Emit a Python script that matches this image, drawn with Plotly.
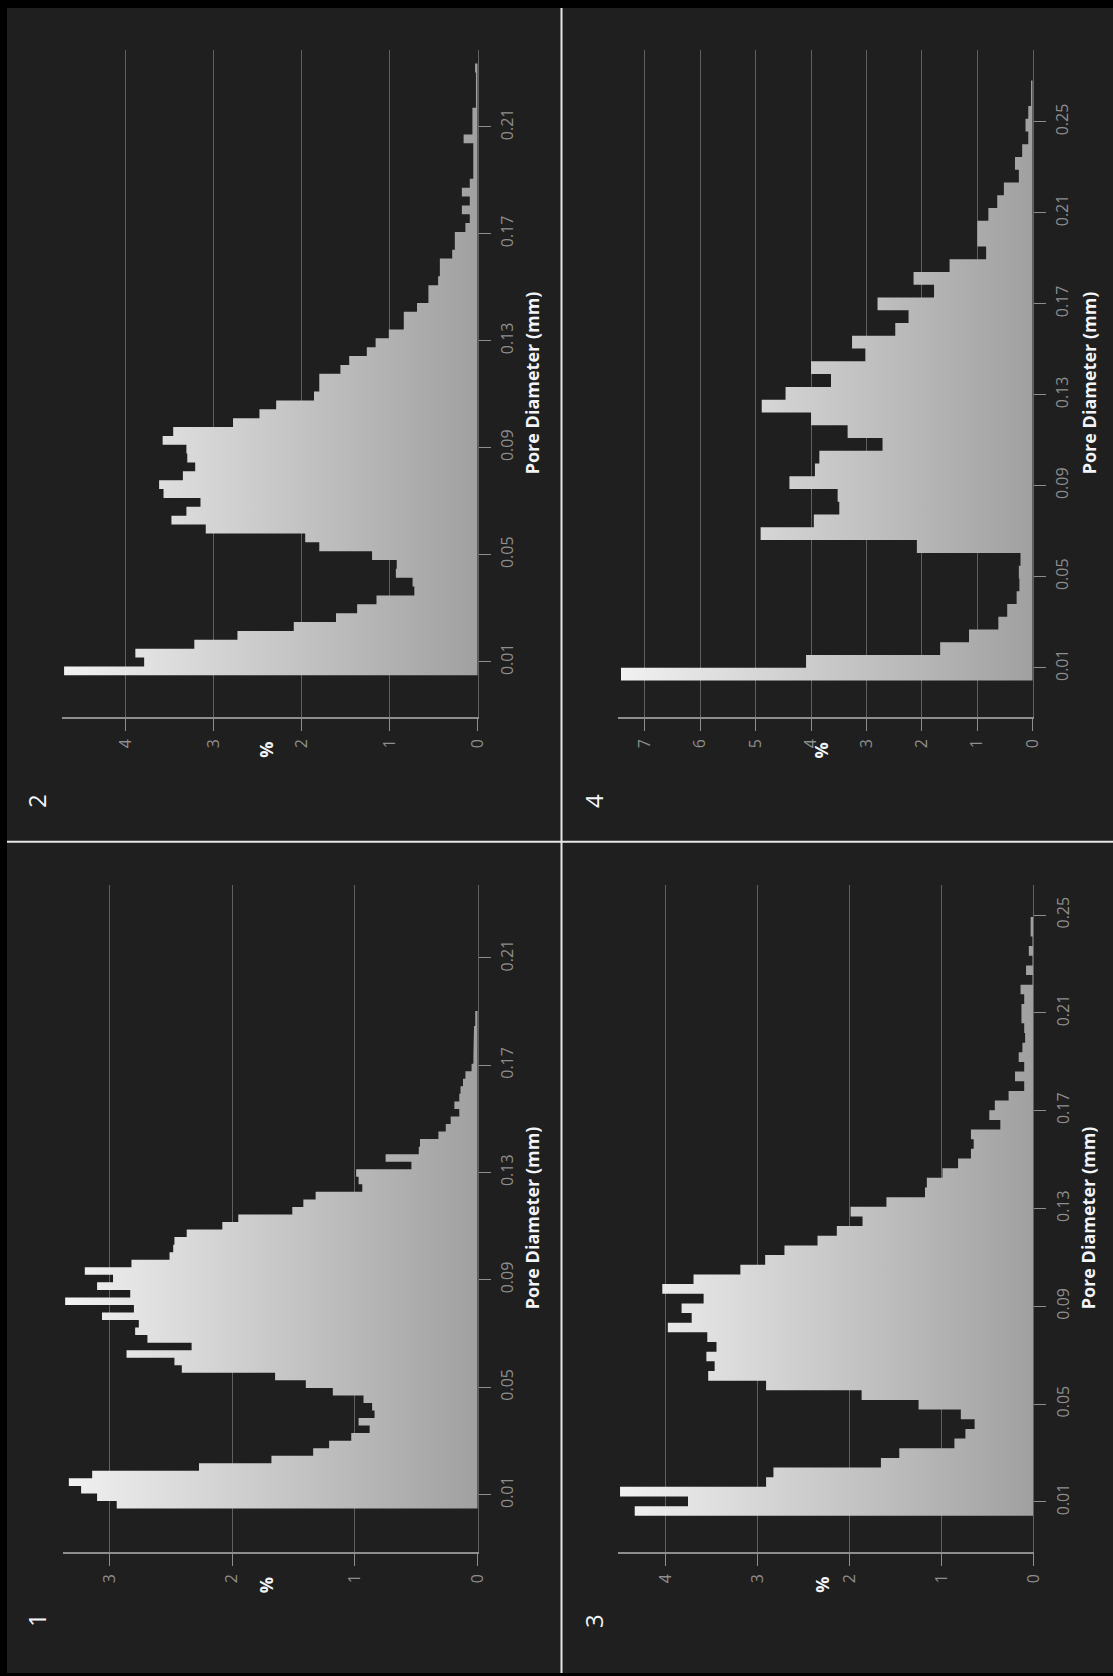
import plotly.graph_objects as go

W, H = 1113, 1676

# ---- pore diameter distributions (percent of pores per size bin) ----
# sample 1
bin_start_1 = 0.0048
bin_width_1 = 0.00281
pct_1 = [2.94, 3.10, 3.23, 3.33, 3.14, 2.27, 1.68, 1.34, 1.21, 1.03,
         0.88, 0.97, 0.84, 0.86, 0.93, 1.18, 1.40, 1.65, 2.41, 2.47,
         2.86, 2.33, 2.69, 2.79, 2.76, 3.06, 2.80, 3.36, 2.83, 3.10,
         2.97, 3.20, 2.82, 2.51, 2.48, 2.47, 2.37, 2.08, 1.95, 1.51,
         1.42, 1.32, 0.94, 0.97, 0.99, 0.54, 0.75, 0.48, 0.47, 0.32,
         0.26, 0.22, 0.15, 0.19, 0.15, 0.14, 0.12, 0.10, 0.05, 0.035,
         0.035, 0.03, 0.03, 0.03, 0.02, 0.02]

# sample 2
bin_start_2 = 0.0049
bin_width_2 = 0.003315
pct_2 = [4.70, 3.79, 3.89, 3.22, 2.73, 2.09, 1.61, 1.37, 1.15, 0.72,
         0.74, 0.93, 0.92, 1.20, 1.80, 1.96, 3.09, 3.48, 3.31, 3.15,
         3.57, 3.62, 3.35, 3.21, 3.30, 3.31, 3.58, 3.46, 2.78, 2.48,
         2.29, 1.86, 1.80, 1.80, 1.56, 1.46, 1.26, 1.16, 1.01, 0.84,
         0.84, 0.69, 0.56, 0.56, 0.45, 0.43, 0.43, 0.29, 0.26, 0.26,
         0.14, 0.09, 0.18, 0.09, 0.18, 0.09, 0.05, 0.05, 0.05, 0.05,
         0.16, 0.06, 0.06, 0.06, 0.02, 0.02, 0.02, 0.02, 0.03]

# sample 3
bin_start_3 = 0.00427
bin_width_3 = 0.00395
pct_3 = [4.34, 3.76, 4.50, 2.91, 2.83, 1.66, 1.46, 0.86, 0.74, 0.64,
         0.79, 1.25, 1.87, 2.91, 3.54, 3.47, 3.56, 3.45, 3.55, 3.98,
         3.72, 3.83, 3.59, 4.04, 3.70, 3.19, 2.92, 2.71, 2.35, 2.14,
         1.86, 1.99, 1.60, 1.18, 1.16, 0.99, 0.82, 0.68, 0.65, 0.68,
         0.36, 0.48, 0.42, 0.27, 0.10, 0.20, 0.10, 0.16, 0.12, 0.09,
         0.10, 0.13, 0.13, 0.10, 0.14, 0.01, 0.08, 0.01, 0.05, 0.01,
         0.03, 0.03]

# sample 4
bin_start_4 = 0.00428
bin_width_4 = 0.005616
pct_4 = [7.43, 4.09, 1.67, 1.15, 0.62, 0.46, 0.29, 0.24, 0.25, 0.22,
         2.09, 4.91, 3.95, 3.49, 3.52, 4.39, 3.93, 3.85, 2.71, 3.34,
         4.00, 4.89, 4.46, 3.64, 4.00, 3.02, 3.26, 2.48, 2.24, 2.80,
         1.78, 2.15, 1.50, 0.84, 1.00, 1.00, 0.80, 0.64, 0.52, 0.25,
         0.32, 0.19, 0.08, 0.13, 0.08, 0.03, 0.03]

# axis ticks
pore_ticks_short = [0.01, 0.05, 0.09, 0.13, 0.17, 0.21]
pore_ticks_long = [0.01, 0.05, 0.09, 0.13, 0.17, 0.21, 0.25]
pct_ticks_1 = [0, 1, 2, 3]
pct_ticks_2 = [0, 1, 2, 3, 4]
pct_ticks_3 = [0, 1, 2, 3, 4]
pct_ticks_4 = [0, 1, 2, 3, 4, 5, 6, 7]

panel_labels = ["1", "2", "3", "4"]
x_title = "Pore Diameter (mm)"
y_title = "%"

# ---- styling ----
BG = "#1f1f1f"
GRID = "#606060"
AXIS = "#8e8e8e"
TICK_TXT = "#8e8e8e"
TITLE_TXT = "#f2f4f8"
FONT = "Open Sans"


def fx(px):
    return px / W


def fy(py):
    return 1 - py / H


# the whole chart is laid out turned a quarter turn: diameter runs upward,
# percent grows to the left.  Panel boxes in pixels: (left, right, top, bottom)
panels = [
    dict(label=panel_labels[0], start=bin_start_1, width=bin_width_1, pct=pct_1,
         pct_ticks=pct_ticks_1, pore_ticks=pore_ticks_short,
         box=(62.7, 477.7, 885.0, 1551.7), pct_max=3.38, pore_range=(-0.0113, 0.2372),
         label_xy=(36, 1620), pore_title_x=532, pct_title_y=1585),
    dict(label=panel_labels[1], start=bin_start_2, width=bin_width_2, pct=pct_2,
         pct_ticks=pct_ticks_2, pore_ticks=pore_ticks_short,
         box=(61.7, 477.7, 50.0, 716.7), pct_max=4.727, pore_range=(-0.0106, 0.2387),
         label_xy=(36, 801), pore_title_x=532, pct_title_y=750),
    dict(label=panel_labels[2], start=bin_start_3, width=bin_width_3, pct=pct_3,
         pct_ticks=pct_ticks_3, pore_ticks=pore_ticks_long,
         box=(618.2, 1033.4, 885.0, 1551.7), pct_max=4.52, pore_range=(-0.0104, 0.2623),
         label_xy=(593, 1621), pore_title_x=1088, pct_title_y=1585),
    dict(label=panel_labels[3], start=bin_start_4, width=bin_width_4, pct=pct_4,
         pct_ticks=pct_ticks_4, pore_ticks=pore_ticks_long,
         box=(618.2, 1032.7, 50.0, 716.7), pct_max=7.48, pore_range=(-0.0116, 0.2816),
         label_xy=(593, 801), pore_title_x=1089, pct_title_y=750),
]

fig = go.Figure()
annotations = []
layout_axes = {}

for i, p in enumerate(panels):
    n = i + 1
    xa = "x" if n == 1 else f"x{n}"
    ya = "y" if n == 1 else f"y{n}"
    xkey = "xaxis" if n == 1 else f"xaxis{n}"
    ykey = "yaxis" if n == 1 else f"yaxis{n}"

    vals = p["pct"]
    edges = [p["start"] + k * p["width"] for k in range(len(vals) + 1)]

    # stepped outline of the histogram, closed back to the zero line
    xs, ys = [0], [edges[0]]
    for k, v in enumerate(vals):
        xs += [v, v]
        ys += [edges[k], edges[k + 1]]
    xs.append(0)
    ys.append(edges[-1])

    fig.add_trace(go.Scatter(
        x=xs, y=ys, xaxis=xa, yaxis=ya, mode="lines",
        line=dict(width=0, color="#cccccc"),
        fill="toself",
        fillgradient=dict(type="horizontal", start=0, stop=p["pct_max"],
                          colorscale=[[0, "#a0a0a0"], [1, "#f2f2f2"]]),
        hoverinfo="skip", showlegend=False,
    ))

    left, right, top, bottom = p["box"]
    layout_axes[xkey] = dict(
        domain=[fx(left), fx(right)], anchor=ya,
        range=[p["pct_max"], 0],
        tickvals=p["pct_ticks"], ticktext=[str(t) for t in p["pct_ticks"]],
        showgrid=True, gridcolor=GRID, gridwidth=1, zeroline=False,
        showline=True, linecolor=AXIS, linewidth=2,
        ticks="outside", ticklen=12, tickwidth=1, tickcolor=AXIS,
        tickangle=-90, ticklabelstandoff=2, automargin=False,
        tickfont=dict(family=FONT, size=16, color=TICK_TXT),
        fixedrange=True,
    )
    layout_axes[ykey] = dict(
        domain=[fy(bottom), fy(top)], anchor=xa, side="right",
        range=list(p["pore_range"]),
        tickvals=p["pore_ticks"], ticktext=[f"{t:.2f}" for t in p["pore_ticks"]],
        showgrid=False, zeroline=False,
        showline=True, linecolor=GRID, linewidth=1,
        ticks="outside", ticklen=12, tickwidth=1, tickcolor=AXIS,
        tickangle=-90, ticklabelstandoff=3, automargin=False,
        tickfont=dict(family=FONT, size=16, color=TICK_TXT),
        fixedrange=True,
    )

    # axis titles and the panel number, all turned with the chart
    annotations.append(dict(
        text=x_title, x=fx(p["pore_title_x"]), y=fy((top + bottom) / 2),
        xref="paper", yref="paper", xanchor="center", yanchor="middle",
        textangle=-90, showarrow=False,
        font=dict(family=FONT, size=18, color=TITLE_TXT, weight="bold"),
    ))
    annotations.append(dict(
        text=y_title, x=fx((left + right) / 2 - 4), y=fy(p["pct_title_y"]),
        xref="paper", yref="paper", xanchor="center", yanchor="middle",
        textangle=-90, showarrow=False,
        font=dict(family=FONT, size=18, color=TITLE_TXT, weight="bold"),
    ))
    lx, ly = p["label_xy"]
    annotations.append(dict(
        text=p["label"], x=fx(lx), y=fy(ly),
        xref="paper", yref="paper", xanchor="center", yanchor="middle",
        textangle=-90, showarrow=False,
        font=dict(family=FONT, size=24, color=TITLE_TXT),
    ))

FRAME = "#000000"
shapes = [
    # black frame along the top, left and bottom edges
    dict(type="rect", xref="paper", yref="paper", layer="below",
         x0=0, x1=1, y0=fy(8), y1=1, fillcolor=FRAME, line=dict(width=0)),
    dict(type="rect", xref="paper", yref="paper", layer="below",
         x0=0, x1=fx(7), y0=0, y1=1, fillcolor=FRAME, line=dict(width=0)),
    dict(type="rect", xref="paper", yref="paper", layer="below",
         x0=0, x1=1, y0=0, y1=fy(1673), fillcolor=FRAME, line=dict(width=0)),
    # panel dividers
    dict(type="line", xref="paper", yref="paper", layer="above",
         x0=fx(561.5), x1=fx(561.5), y0=fy(1673), y1=fy(8),
         line=dict(color="#e6e6e6", width=2)),
    dict(type="line", xref="paper", yref="paper", layer="above",
         x0=fx(7), x1=1, y0=fy(841.7), y1=fy(841.7),
         line=dict(color="#e6e6e6", width=2)),
]

fig.update_layout(
    width=W, height=H, autosize=False,
    margin=dict(l=0, r=0, t=0, b=0, pad=0, autoexpand=False),
    paper_bgcolor=BG,
    plot_bgcolor="rgba(0,0,0,0)",
    showlegend=False,
    annotations=annotations,
    shapes=shapes,
    **layout_axes,
)

fig.write_html(
    "out.html",
    config=dict(displayModeBar=False, responsive=False),
    post_script=(
        "document.documentElement.style.overflow='hidden';"
        "document.body.style.overflow='hidden';"
        "document.body.style.margin='0';"
        "document.body.style.background='#1f1f1f';"
    ),
)
